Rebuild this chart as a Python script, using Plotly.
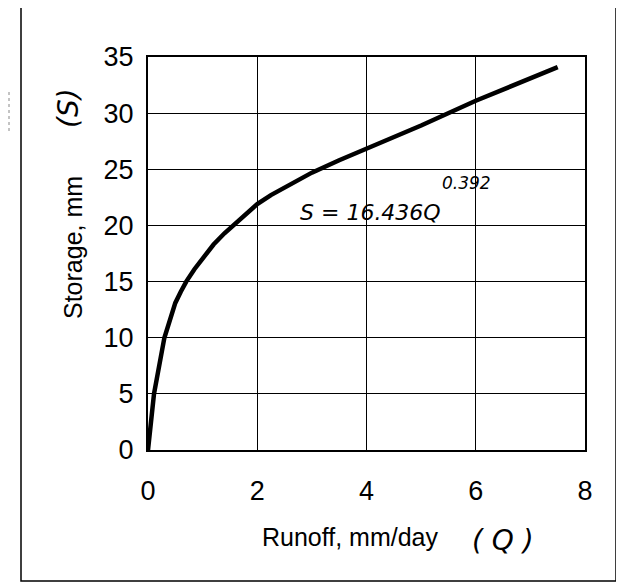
import plotly.graph_objects as go

# Data
runoff_q = [0, 0.11, 0.3, 0.4, 0.5, 0.6, 0.7, 0.85, 1.0, 1.2, 1.4, 1.6, 1.8, 2.0,
            2.25, 2.5, 3.0, 3.5, 4.0, 5.0, 6.0, 7.5]
storage_s = [0, 5, 10, 11.7, 13.1, 14.1, 15, 16.1, 17, 18.3, 19.3, 20.2, 21.1, 21.9,
             22.7, 23.4, 24.7, 25.8, 26.8, 28.9, 31.1, 34.1]
x_ticks = [0, 2, 4, 6, 8]
y_ticks = [0, 5, 10, 15, 20, 25, 30, 35]

# page body has an 8px margin: shrink the figure accordingly
OFF = 8
W, H = 624 - OFF, 585 - OFF
L, R, T, B = 148, 585, 57, 450   # plot area in reference pixels


def px(x):
    return (x - L) / (R - L)


def py(y):
    return (B - y) / (B - T)


fig = go.Figure()
fig.add_trace(go.Scatter(x=runoff_q, y=storage_s, mode="lines",
                         line=dict(color="black", width=4.5), showlegend=False,
                         hoverinfo="skip"))

font_main = "Liberation Sans, Arial, sans-serif"

fig.update_layout(
    width=W, height=H,
    margin=dict(l=L - OFF, r=W - (R - OFF), t=T - OFF, b=H - (B - OFF), pad=0),
    paper_bgcolor="white", plot_bgcolor="white",
    font=dict(family=font_main, size=25, color="black"),
    xaxis=dict(range=[0, 8], tickvals=x_ticks, showgrid=True, gridcolor="black",
               gridwidth=1, zeroline=False, showline=True, linecolor="black",
               linewidth=2, mirror=True, ticks="", ticklabelstandoff=16,
               tickfont=dict(size=27)),
    yaxis=dict(range=[0, 35], tickvals=y_ticks, showgrid=True, gridcolor="black",
               gridwidth=1, zeroline=False, showline=True, linecolor="black",
               linewidth=2, mirror=True, ticks="", ticklabelstandoff=7,
               tickfont=dict(size=27)),
)

ann = []
# axis titles
ann.append(dict(x=px(350), y=py(537), xref="paper", yref="paper", text="Runoff, mm/day",
                showarrow=False, xanchor="center", yanchor="middle",
                font=dict(size=25)))
ann.append(dict(x=px(503), y=py(540), xref="paper", yref="paper", text="<i>( Q )</i>",
                showarrow=False, xanchor="center", yanchor="middle",
                font=dict(size=28, family="DejaVu Sans")))
ann.append(dict(x=px(73), y=py(248), xref="paper", yref="paper", text="Storage, mm",
                showarrow=False, textangle=-90, xanchor="center", yanchor="middle",
                font=dict(size=25)))
ann.append(dict(x=px(68), y=py(108), xref="paper", yref="paper", text="<i>(S)</i>",
                showarrow=False, textangle=-90, xanchor="center", yanchor="middle",
                font=dict(size=28, family="DejaVu Sans")))
# handwritten equation
ann.append(dict(x=px(298), y=py(212), xref="paper", yref="paper",
                text="<i>S = 16.436Q</i>", showarrow=False, xanchor="left",
                yanchor="middle", font=dict(size=22, family="DejaVu Sans")))
ann.append(dict(x=px(440), y=py(183), xref="paper", yref="paper",
                text="<i>0.392</i>", showarrow=False, xanchor="left",
                yanchor="middle", font=dict(size=17, family="DejaVu Sans")))
fig.update_layout(annotations=ann)

# outer frame of the scanned figure
fig.add_shape(type="rect", xref="paper", yref="paper",
              x0=px(21), x1=px(616), y0=py(581), y1=py(6),
              line=dict(color="black", width=1.5), fillcolor="rgba(0,0,0,0)")
# faint dotted mark at far left
fig.add_shape(type="line", xref="paper", yref="paper",
              x0=px(9), x1=px(9), y0=py(92), y1=py(132),
              line=dict(color="#888", width=1, dash="dot"))

fig.write_html("out.html")
